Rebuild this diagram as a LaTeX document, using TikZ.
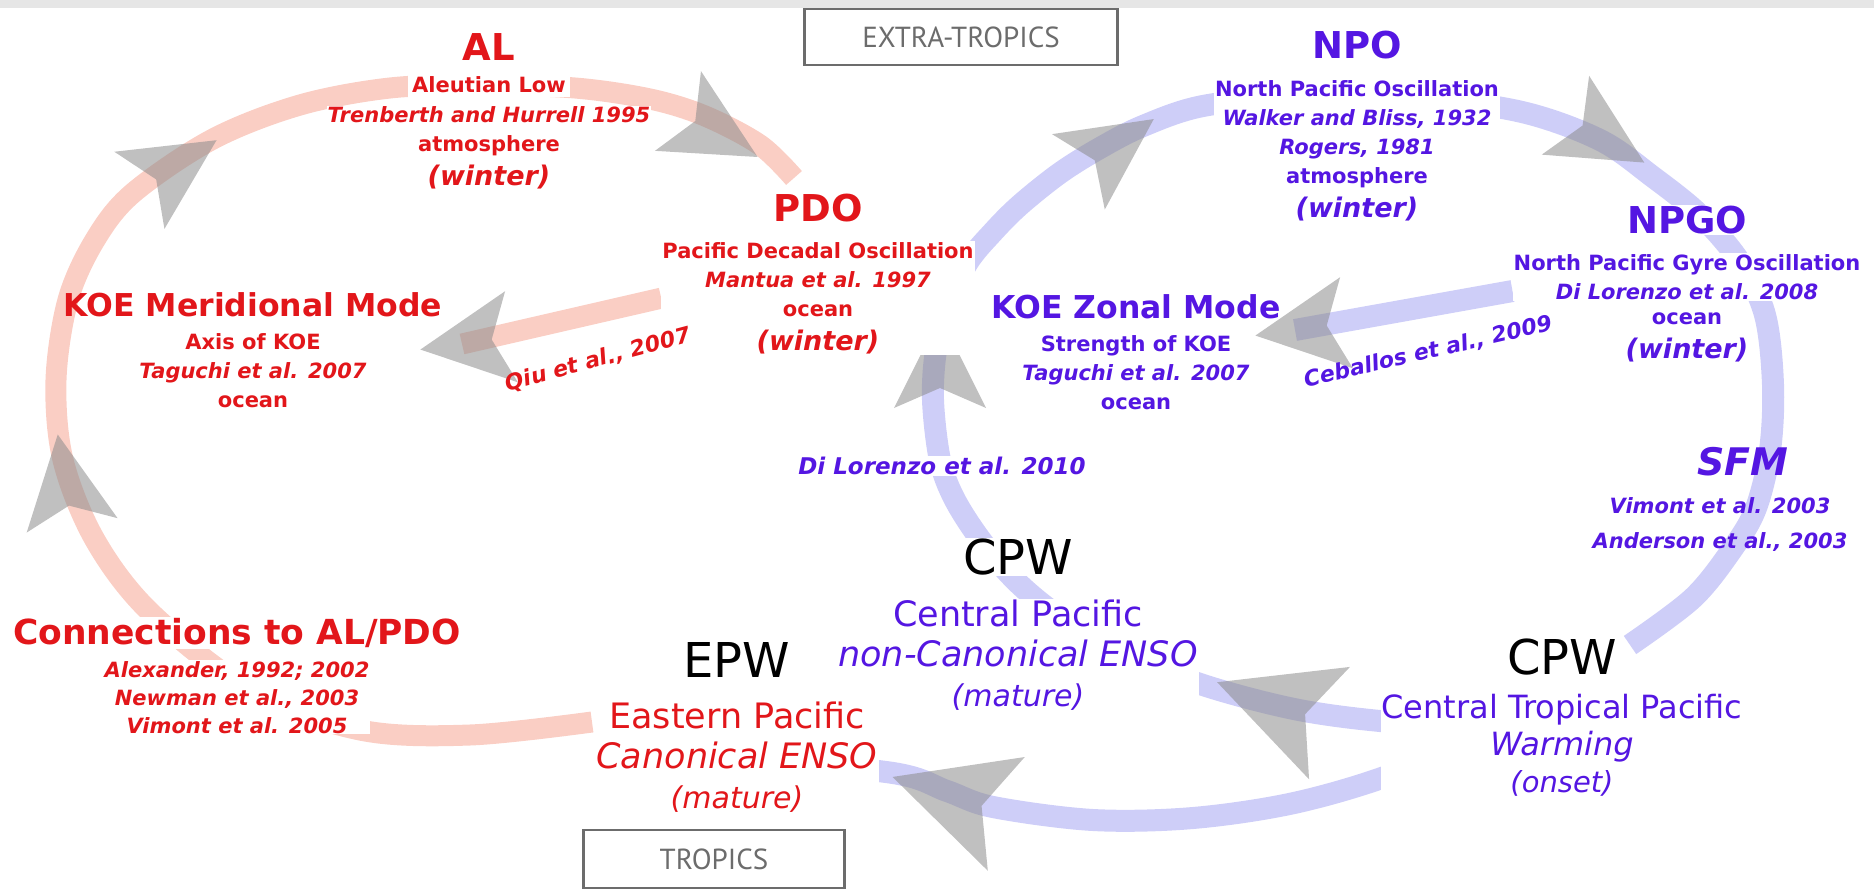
\documentclass[tikz,border=0pt]{standalone}
\usepackage{fontspec}
\setmainfont{DejaVu Sans}
\newfontfamily\boxfont{PT Sans}
\usetikzlibrary{positioning}

\definecolor{kred}{RGB}{226,22,26}
\definecolor{kblue}{RGB}{84,22,226}
\definecolor{redband}{RGB}{250,206,196}
\definecolor{blueband}{RGB}{206,206,248}
\definecolor{headgray}{RGB}{140,140,140}
\definecolor{boxgray}{RGB}{108,108,108}
\definecolor{topgray}{RGB}{230,230,230}

\newcommand{\season}{\bfseries\itshape\fontsize{27}{27}\selectfont}
\newcommand{\phaseit}{\itshape\fontsize{30}{30}\selectfont}

\pgfdeclarelayer{bg}
\pgfsetlayers{bg,main}

\tikzset{
  bigname/.style={font=\bfseries\fontsize{37}{37}\selectfont, fill=white, inner sep=1pt},
  modename/.style={font=\bfseries\fontsize{31.5}{31.5}\selectfont, inner sep=1pt},
  ensoname/.style={font=\fontsize{48}{48}\selectfont, text=black, inner sep=1pt},
  refs/.style={font=\bfseries\fontsize{21}{29}\selectfont, align=center, fill=white, inner sep=1pt},
  phase/.style={font=\fontsize{35}{40}\selectfont, align=center, fill=white, inner sep=1pt},
  cite/.style={font=\bfseries\itshape\fontsize{22}{22}\selectfont, inner sep=1pt},
  regionbox/.style={draw=boxgray, fill=white, line width=2.5pt, text=boxgray, font=\boxfont\fontsize{29}{29}\selectfont},
  redarc/.style={draw=redband, line width=21pt},
  bluearc/.style={draw=blueband, line width=22pt},
  fathead/.pic={\fill[headgray, opacity=0.55] (40pt,0pt) -- (-52pt,46pt) -- (-32pt,0pt) -- (-52pt,-46pt) -- cycle;}
}

\begin{document}
\begin{tikzpicture}[x=1pt,y=-1pt]
\useasboundingbox (0,0) rectangle (1874,893);
\fill[topgray] (0,0) rectangle (1874,8);

% region labels
\node[regionbox, minimum width=313pt, minimum height=56pt] (xtrop) at (961,37) {EXTRA-TROPICS};
\node[regionbox, minimum width=261pt, minimum height=58pt] (trop) at (714,859) {TROPICS};

% red side: AL, PDO, KOE meridional mode
\node[bigname, text=kred] (al) at (489,47) {AL};
\node[refs, text=kred, inner sep=4pt, below=11pt of al] (alname) {Aleutian Low};
\node[refs, text=kred, below=8pt of alname] (albody) {\textit{Trenberth and Hurrell 1995}\\ atmosphere\\[5pt] {\season (winter)}};
\node[bigname, text=kred] (pdo) at (818,208) {PDO};
\node[refs, text=kred, below=18pt of pdo] (pdobody) {Pacific Decadal Oscillation\\ \textit{Mantua et al. 1997}\\ ocean\\[5pt] {\season (winter)}};
\node[modename, text=kred] (koem) at (253,305) {KOE Meridional Mode};
\node[refs, text=kred, below=13.5pt of koem] (koembody) {Axis of KOE\\ \textit{Taguchi et al. 2007}\\ ocean};
\node[cite, text=kred, rotate=15] (qiu) at (598,360) {Qiu et al., 2007};
\node[modename, text=kred, fill=white, font=\bfseries\fontsize{34.5}{34.5}\selectfont] (conn) at (237,633) {Connections to AL/PDO};
\node[refs, text=kred, below=11pt of conn, font=\bfseries\itshape\fontsize{21}{28}\selectfont] (connbody) {Alexander, 1992; 2002\\ Newman et al., 2003\\ Vimont et al. 2005};

% central pacific warming, mature and onset
\node[ensoname, fill=white] (cpwc) at (1018,557) {CPW};
\node[phase, text=kblue, below=22.5pt of cpwc] (cpwcbody) {Central Pacific\\ \textit{non-Canonical ENSO}\\ {\phaseit (mature)}};
\node[ensoname] (cpwe) at (1562,657) {CPW};
\node[phase, text=kblue, font=\fontsize{32}{37}\selectfont, below=17pt of cpwe] (cpwebody) {Central Tropical Pacific\\ \textit{Warming}\\ {\itshape\fontsize{29}{29}\selectfont (onset)}};

% eastern pacific warming
\node[ensoname] (epw) at (737,660) {EPW};
\node[phase, text=kred, below=22.5pt of epw] (epwbody) {Eastern Pacific\\ \textit{Canonical ENSO}\\ {\phaseit (mature)}};

% blue side: NPO, NPGO, KOE zonal mode, SFM
\node[bigname, text=kblue] (npo) at (1357,45) {NPO};
\node[refs, text=kblue, below=19pt of npo] (npobody) {North Pacific Oscillation\\ \textit{Walker and Bliss, 1932}\\ \textit{Rogers, 1981}\\ atmosphere\\[5pt] {\season (winter)}};
\node[bigname, text=kblue] (npgo) at (1687,220) {NPGO};
\node[refs, text=kblue, below=18pt of npgo] (npgobody) {North Pacific Gyre Oscillation\\ \textit{Di Lorenzo et al. 2008}};
\node[refs, text=kblue, below=11pt of npgobody] (npgoseason) {ocean\\[5pt] {\season (winter)}};
\node[modename, text=kblue] (koez) at (1136,307) {KOE Zonal Mode};
\node[refs, text=kblue, below=13.5pt of koez] (koezbody) {Strength of KOE\\ \textit{Taguchi et al. 2007}\\ ocean};
\node[cite, text=kblue, rotate=13] (ceb) at (1428,352) {Ceballos et al., 2009};
\node[cite, text=kblue, fill=white, font=\bfseries\itshape\fontsize{23}{23}\selectfont] (dl10) at (942,466) {Di Lorenzo et al. 2010};
\node[bigname, text=kblue, fill=none, font=\bfseries\itshape\fontsize{38}{38}\selectfont] (sfm) at (1743,462) {SFM};
\node[refs, text=kblue, fill=none, font=\bfseries\itshape\fontsize{21}{35}\selectfont, below=18.5pt of sfm, xshift=-23pt] (sfmbody) {Vimont et al. 2003\\ Anderson et al., 2003};

\begin{pgfonlayer}{bg}
% red loop
\coordinate (redin) at (592,722);
\coordinate (pdoin) at (794,178);
\draw[redarc] plot[smooth, tension=0.55] coordinates {(redin) (470,735) (360,730) (250,690) (150,612) (95,540) (63,460) (56,380) (68,300) (95,240) (133,193) (213,139) (300,105) (390,88) (480,85) (575,88) (650,99) (705,116) (760,145) (pdoin)};
\coordinate (qiuhead) at (462,344);
\draw[redarc] (pdobody.west) -- (qiuhead);
% blue loop
\coordinate (cpwein) at (1630,645);
\draw[bluearc] plot[smooth, tension=0.55] coordinates {(cpwebody) (1460,725) (1380,721) (1294,709) (1200,684) (1117,650) (1060,617) (1018,583) (983,543) (955,500) (940,460) (933,400) (936,350) (947,305) (968,262) (993,232) (1020,205) (1060,173) (1100,148) (1143,126) (1203,106) (1300,96) (1420,98) (1522,112) (1600,140) (1653,177) (1700,215) (1740,262) (1765,315) (1773,385) (1770,450) (1756,508) (1733,548) (1693,598) (cpwein)};
\draw[bluearc] plot[smooth, tension=0.55] coordinates {(cpwebody) (1474,736) (1390,775) (1294,803) (1193,818) (1093,820) (993,807) (947,791) (893,773) (epwbody)};
\coordinate (cebhead) at (1295,330);
\draw[bluearc] ([yshift=-14pt]npgobody.west) -- (cebhead);
% arrow heads
\pic[rotate=99] at (64,474) {fathead};
\pic[rotate=33] at (183,162) {fathead};
\pic[rotate=-30] at (723,137) {fathead};
\pic[rotate=188] at (460,344) {fathead};
\pic[rotate=90] at (940,356) {fathead};
\pic[rotate=35] at (1121,142) {fathead};
\pic[rotate=-31] at (1610,142) {fathead};
\pic[rotate=188] at (1295,330) {fathead};
\pic[rotate=160, scale=1.3] at (1266,700) {fathead};
\pic[rotate=162, scale=1.3] at (942,793) {fathead};
\end{pgfonlayer}
\end{tikzpicture}
\end{document}
